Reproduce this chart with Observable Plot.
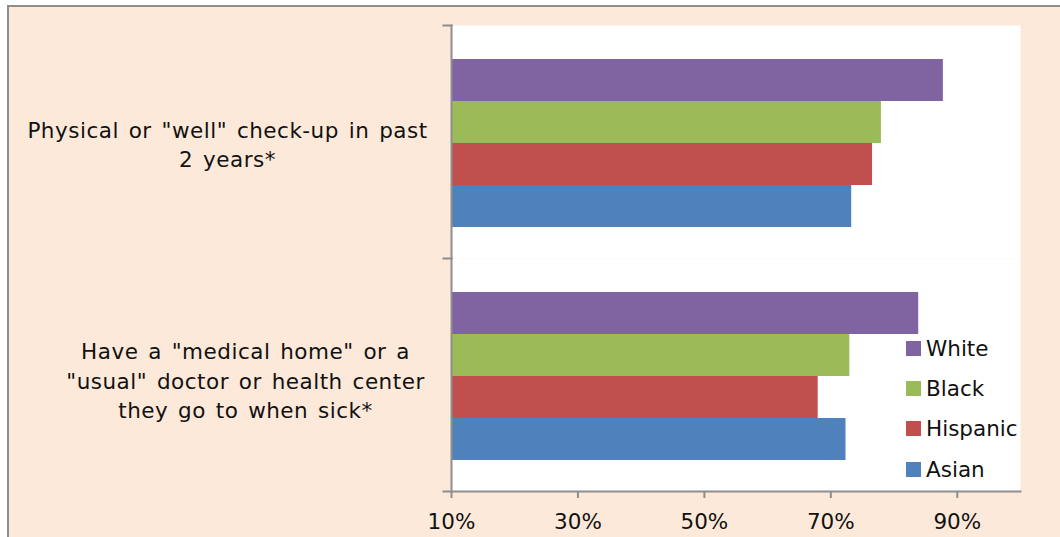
<!DOCTYPE html>
<html>
<head>
<meta charset="utf-8">
<script src="https://cdn.jsdelivr.net/npm/d3@7"></script>
<script src="https://cdn.jsdelivr.net/npm/@observablehq/plot@0.6"></script>
<style>
  html, body { margin: 0; padding: 0; background: #ffffff; }
  body { width: 1060px; height: 537px; position: relative; overflow: hidden; font-family: "DejaVu Sans", Verdana, sans-serif; }
  #box { position: absolute; left: 7px; top: 5px; width: 1060px; height: 540px; background: #FDE9D9;
         border-top: 2px solid #8e8e8e; border-left: 2px solid #8e8e8e; }
  #chart { position: absolute; left: 0; top: 0; }
  #legend { position: absolute; left: 906px; top: 328px; }
  .row { display: flex; align-items: center; height: 40.3px; font-size: 21.5px; color: #111; }
  .sw { width: 15px; height: 15px; margin-right: 5px; }
  .catlabel { letter-spacing: 0.5px; word-spacing: 2.5px; }
</style>
</head>
<body>
<div id="box"></div>
<div id="chart"></div>
<div id="legend"></div>
<script>
const categories = [
  'Physical or "well" check-up in past\n2 years*',
  'Have a "medical home" or a\n"usual" doctor or health center\nthey go to when sick*'
];
const races = ["White", "Black", "Hispanic", "Asian"];
const white = [87.8, 83.9];
const black = [78.0, 73.0];
const hispanic = [76.6, 68.0];
const asian = [73.3, 72.4];
const colors = ["#8064A2", "#9BBB59", "#C0504D", "#4F81BD"];
const xTicks = [10, 30, 50, 70, 90];

const series = {White: white, Black: black, Hispanic: hispanic, Asian: asian};
const data = [];
categories.forEach((c, i) => races.forEach(r => data.push({category: c, race: r, value: series[r][i]})));

const W = 1060, H = 537, ML = 451, MR = 40, MT = 25, MB = 46;
const plotW = W - ML - MR;
const axisColor = "#8e8e8e";

const chart = Plot.plot({
  width: W, height: H,
  marginLeft: ML, marginRight: MR, marginTop: MT, marginBottom: MB,
  style: {background: "transparent", fontFamily: "'DejaVu Sans', Verdana, sans-serif", color: "#111"},
  x: {domain: [10, 100], axis: null},
  y: {domain: races, paddingInner: 0, paddingOuter: 0.74, align: 0.52, axis: null},
  fy: {domain: categories, padding: 0, axis: null},
  color: {domain: races, range: colors},
  marks: [
    Plot.frame({fill: "white", stroke: "none"}),
    Plot.barX(data, {fy: "category", y: "race", x: "value", fill: "race", clip: true}),
    Plot.frame({anchor: "left", stroke: axisColor, strokeWidth: 2}),
    Plot.frame({anchor: "top", insetLeft: -8, insetRight: plotW, stroke: axisColor, strokeWidth: 2}),
    Plot.frame({anchor: "bottom", facetAnchor: "bottom", insetLeft: -8, stroke: axisColor, strokeWidth: 2}),
    Plot.axisX({ticks: xTicks, tickFormat: d => d + "%", tickSize: 7, tickPadding: 15, fontSize: 21.5,
                stroke: axisColor, strokeWidth: 2, fill: "#111", label: null}),
    Plot.text([categories[0]], {fy: d => d, text: d => d, frameAnchor: "left", textAnchor: "middle",
                dx: -224, dy: 1, fontSize: 21.5, lineHeight: 1.38, fill: "#111", className: "catlabel"}),
    Plot.text([categories[1]], {fy: d => d, text: d => d, frameAnchor: "left", textAnchor: "middle",
                dx: -206, dy: 4, fontSize: 21.5, lineHeight: 1.38, fill: "#111", className: "catlabel"})
  ]
});
document.getElementById("chart").appendChild(chart);

const legend = document.getElementById("legend");
races.forEach((r, i) => {
  const row = document.createElement("div");
  row.className = "row";
  const sw = document.createElement("div");
  sw.className = "sw";
  sw.style.background = colors[i];
  const t = document.createElement("span");
  t.textContent = r;
  row.appendChild(sw); row.appendChild(t);
  legend.appendChild(row);
});
</script>
</body>
</html>
